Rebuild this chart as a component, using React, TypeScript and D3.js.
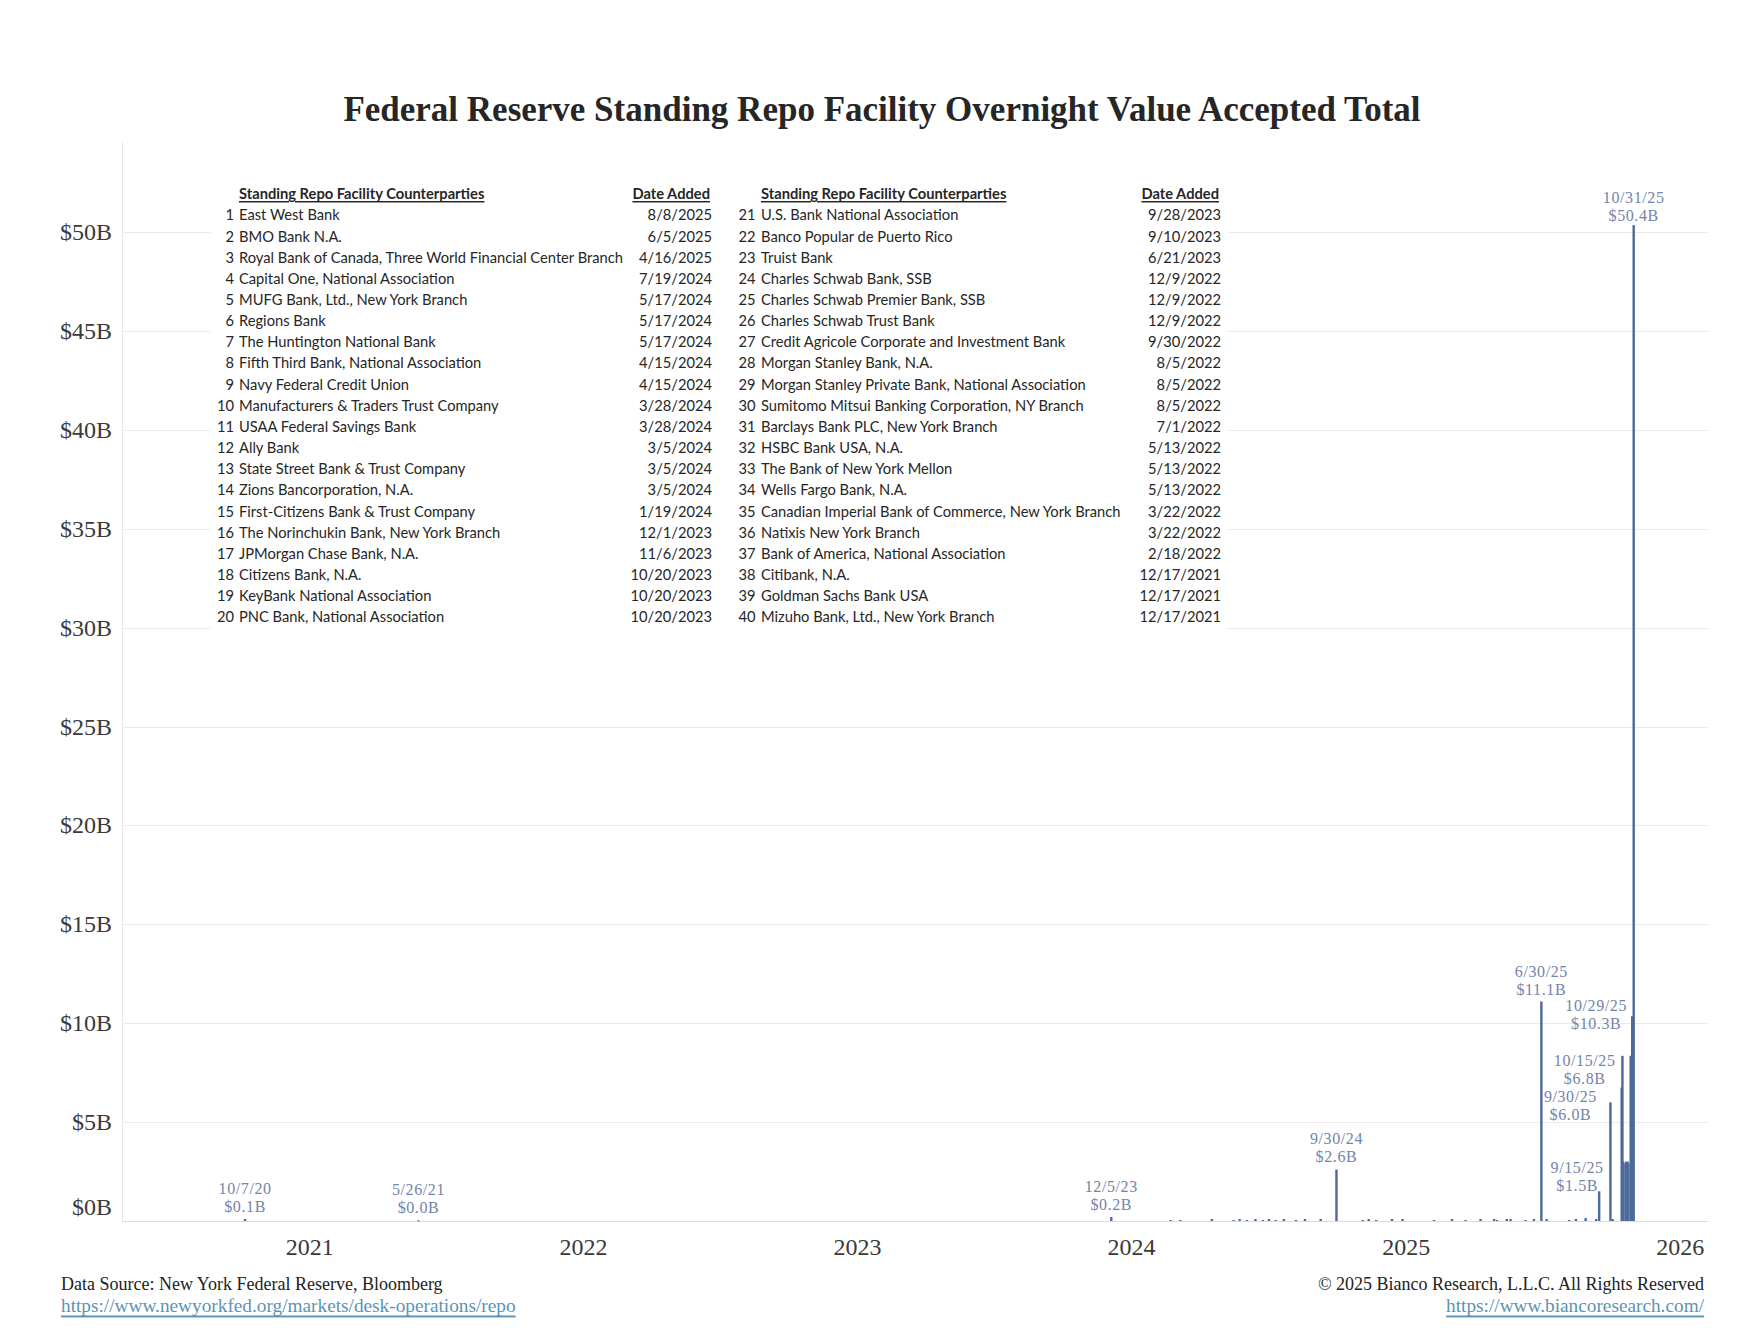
import React from "react";
import * as d3 from "d3";

const width = 1742;
const height = 1340;
const plot = { left: 122, right: 1708, top: 142, bottom: 1221 };
const serif = "'Liberation Serif', 'Times New Roman', serif";
const sans = "Lato, 'Open Sans', sans-serif";
const barColor = "#4d6a9a";
const labelColor = "#7384a8";
const linkColor = "#5b93b5";

const title =
  "Federal Reserve Standing Repo Facility Overnight Value Accepted Total";

// overnight SRF value accepted, $ billions (only days with usage)
const usageDates = [
  "2020-10-07", "2021-05-26", "2023-12-05",
  "2024-02-22", "2024-03-06", "2024-04-17", "2024-05-16", "2024-05-24",
  "2024-06-03", "2024-06-14", "2024-06-24", "2024-07-02", "2024-07-11",
  "2024-07-22", "2024-08-07", "2024-08-19", "2024-09-09", "2024-09-30",
  "2024-11-04", "2024-11-12", "2024-11-22", "2024-12-13", "2024-12-27",
  "2025-02-07", "2025-03-03", "2025-03-21", "2025-04-10", "2025-04-28",
  "2025-05-02", "2025-05-15", "2025-05-20", "2025-06-09", "2025-06-20",
  "2025-06-30", "2025-07-07", "2025-08-06", "2025-08-15", "2025-08-28",
  "2025-09-11", "2025-09-15", "2025-09-30", "2025-10-03",
  "2025-10-15", "2025-10-16", "2025-10-17", "2025-10-20", "2025-10-21",
  "2025-10-22", "2025-10-23", "2025-10-24", "2025-10-27", "2025-10-28",
  "2025-10-29", "2025-10-30", "2025-10-31",
];
const usageValues = [
  0.1, 0.03, 0.2,
  0.05, 0.05, 0.1, 0.05, 0.1,
  0.05, 0.1, 0.05, 0.1, 0.05,
  0.1, 0.05, 0.1, 0.1, 2.6,
  0.05, 0.1, 0.05, 0.1, 0.1,
  0.05, 0.1, 0.05, 0.1, 0.1,
  0.05, 0.1, 0.1, 0.05, 0.1,
  11.1, 0.1, 0.05, 0.1, 0.15,
  0.1, 1.5, 6.0, 0.1,
  6.75, 8.35, 3.0, 2.9, 3.0,
  2.9, 3.0, 2.9, 8.35, 8.35,
  10.35, 9.5, 50.35,
];

// annotated days
const labeledDates = [
  "2020-10-07", "2021-05-26", "2023-12-05", "2024-09-30", "2025-06-30",
  "2025-09-15", "2025-09-30", "2025-10-15", "2025-10-29", "2025-10-31",
];
// label nudges in px [dx, dy] so the late-2025 cluster stays readable
const labelNudges = [
  [0, 0], [0, 0], [0, 0], [0, 0], [0, 1],
  [-22, 7], [-40, 25], [-37, 4], [-36, 20], [0, 3],
];

const yTicks = [0, 5, 10, 15, 20, 25, 30, 35, 40, 45, 50];

const leftNames = [
  "East West Bank",
  "BMO Bank N.A.",
  "Royal Bank of Canada, Three World Financial Center Branch",
  "Capital One, National Association",
  "MUFG Bank, Ltd., New York Branch",
  "Regions Bank",
  "The Huntington National Bank",
  "Fifth Third Bank, National Association",
  "Navy Federal Credit Union",
  "Manufacturers & Traders Trust Company",
  "USAA Federal Savings Bank",
  "Ally Bank",
  "State Street Bank & Trust Company",
  "Zions Bancorporation, N.A.",
  "First-Citizens Bank & Trust Company",
  "The Norinchukin Bank, New York Branch",
  "JPMorgan Chase Bank, N.A.",
  "Citizens Bank, N.A.",
  "KeyBank National Association",
  "PNC Bank, National Association",
];
const leftAdded = [
  "8/8/2025", "6/5/2025", "4/16/2025", "7/19/2024", "5/17/2024",
  "5/17/2024", "5/17/2024", "4/15/2024", "4/15/2024", "3/28/2024",
  "3/28/2024", "3/5/2024", "3/5/2024", "3/5/2024", "1/19/2024",
  "12/1/2023", "11/6/2023", "10/20/2023", "10/20/2023", "10/20/2023",
];
const rightNames = [
  "U.S. Bank National Association",
  "Banco Popular de Puerto Rico",
  "Truist Bank",
  "Charles Schwab Bank, SSB",
  "Charles Schwab Premier Bank, SSB",
  "Charles Schwab Trust Bank",
  "Credit Agricole Corporate and Investment Bank",
  "Morgan Stanley Bank, N.A.",
  "Morgan Stanley Private Bank, National Association",
  "Sumitomo Mitsui Banking Corporation, NY Branch",
  "Barclays Bank PLC, New York Branch",
  "HSBC Bank USA, N.A.",
  "The Bank of New York Mellon",
  "Wells Fargo Bank, N.A.",
  "Canadian Imperial Bank of Commerce, New York Branch",
  "Natixis New York Branch",
  "Bank of America, National Association",
  "Citibank, N.A.",
  "Goldman Sachs Bank USA",
  "Mizuho Bank, Ltd., New York Branch",
];
const rightAdded = [
  "9/28/2023", "9/10/2023", "6/21/2023", "12/9/2022", "12/9/2022",
  "12/9/2022", "9/30/2022", "8/5/2022", "8/5/2022", "8/5/2022",
  "7/1/2022", "5/13/2022", "5/13/2022", "5/13/2022", "3/22/2022",
  "3/22/2022", "2/18/2022", "12/17/2021", "12/17/2021", "12/17/2021",
];

const parse = d3.timeParse("%Y-%m-%d");
const fmtDay = d3.timeFormat("%-m/%-d/%y");

const x = d3
  .scaleTime()
  .domain([parse("2020-04-26") as Date, parse("2026-02-07") as Date])
  .range([plot.left, plot.right]);
const y = d3.scaleLinear().domain([0, 50]).range([plot.bottom, 232]);
const barW = 2.4;

const table = {
  top: 214.4, // first row centre
  step: 21.15,
  headerY: 193,
  cols: [
    { num: 234, name: 239, date: 712, start: 1 },
    { num: 755.5, name: 761, date: 1221, start: 21 },
  ],
};

const CounterpartyTable = () => {
  const groups = [
    { names: leftNames, added: leftAdded, col: table.cols[0] },
    { names: rightNames, added: rightAdded, col: table.cols[1] },
  ];
  return (
    <g fontFamily={sans} fontSize={14.7} fill="#262626">
      <rect x={211} y={180} width={1017} height={452} fill="#fff" />
      {groups.map((g, gi) => (
        <g key={gi}>
          <text
            x={g.col.name}
            y={table.headerY}
            dominantBaseline="central"
            fontWeight="bold"
            textDecoration="underline"
          >
            Standing Repo Facility Counterparties
          </text>
          <text
            x={g.col.date - 2}
            y={table.headerY}
            dominantBaseline="central"
            textAnchor="end"
            fontWeight="bold"
            textDecoration="underline"
          >
            Date Added
          </text>
          {g.names.map((n, i) => {
            const cy = table.top + i * table.step;
            return (
              <g key={n}>
                <text x={g.col.num} y={cy} dominantBaseline="central" textAnchor="end">
                  {g.col.start + i}
                </text>
                <text x={g.col.name} y={cy} dominantBaseline="central">
                  {n}
                </text>
                <text x={g.col.date} y={cy} dominantBaseline="central" textAnchor="end">
                  {g.added[i]}
                </text>
              </g>
            );
          })}
        </g>
      ))}
    </g>
  );
};

export default function App() {
  const bars = usageDates.map((d, i) => ({
    date: parse(d) as Date,
    value: usageValues[i],
  }));
  const years = x.ticks(d3.timeYear.every(1) as d3.TimeInterval);
  const notes = labeledDates.map((d, i) => {
    const b = bars[usageDates.indexOf(d)];
    return { ...b, dx: labelNudges[i][0], dy: labelNudges[i][1] };
  });

  return (
    <svg
      width={width}
      height={height}
      style={{ position: "absolute", left: 0, top: 0, background: "#fff" }}
    >
      <text
        x={882}
        y={109}
        textAnchor="middle"
        dominantBaseline="central"
        fontFamily={serif}
        fontWeight="bold"
        fontSize={35}
        fill="#262626"
      >
        {title}
      </text>

      {/* grid */}
      <line
        x1={plot.left + 0.5}
        x2={plot.left + 0.5}
        y1={plot.top}
        y2={plot.bottom}
        stroke="#e6e6e6"
      />
      {yTicks.map((t) => (
        <g key={t}>
          <line
            x1={plot.left}
            x2={plot.right}
            y1={Math.round(y(t)) + 0.5}
            y2={Math.round(y(t)) + 0.5}
            stroke={t === 0 ? "#dcdcdc" : "#ebebeb"}
          />
          <text
            x={112}
            y={y(t) - (t === 0 ? 14 : 0)}
            textAnchor="end"
            dominantBaseline="central"
            fontFamily={serif}
            fontSize={24}
            fill="#3a3a3a"
          >
            {`$${t}B`}
          </text>
        </g>
      ))}
      {years.map((t) => (
        <text
          key={+t}
          x={x(t)}
          y={1247}
          textAnchor="middle"
          dominantBaseline="central"
          fontFamily={serif}
          fontSize={24}
          fill="#3a3a3a"
        >
          {d3.timeFormat("%Y")(t)}
        </text>
      ))}

      <CounterpartyTable />

      {/* annotations sit under the bars */}
      <g
        fontFamily={serif}
        fontSize={16}
        letterSpacing={0.6}
        fill={labelColor}
        textAnchor="middle"
      >
        {notes.map((n) => {
          const cx = x(n.date) + n.dx;
          const top = y(n.value) + n.dy;
          return (
            <g key={+n.date}>
              <text x={cx} y={top - 31} dominantBaseline="central">
                {fmtDay(n.date)}
              </text>
              <text x={cx} y={top - 13} dominantBaseline="central">
                {`$${n.value.toFixed(1)}B`}
              </text>
            </g>
          );
        })}
      </g>

      <g fill={barColor}>
        {bars.map((b) => (
          <rect
            key={+b.date}
            x={x(b.date) - barW / 2}
            y={y(b.value)}
            width={barW}
            height={Math.max(1, y(0) - y(b.value))}
          />
        ))}
      </g>

      {/* footer */}
      <g fontFamily={serif} fontSize={18}>
        <text x={61} y={1284} dominantBaseline="central" fill="#222">
          Data Source: New York Federal Reserve, Bloomberg
        </text>
        <text
          x={61}
          y={1305}
          dominantBaseline="central"
          fill={linkColor}
          fontSize={19.3}
          textDecoration="underline"
        >
          https://www.newyorkfed.org/markets/desk-operations/repo
        </text>
        <text x={1704} y={1284} dominantBaseline="central" textAnchor="end" fill="#222">
          © 2025 Bianco Research, L.L.C. All Rights Reserved
        </text>
        <text
          x={1704}
          y={1305}
          dominantBaseline="central"
          textAnchor="end"
          fill={linkColor}
          fontSize={19.3}
          textDecoration="underline"
        >
          https://www.biancoresearch.com/
        </text>
      </g>
    </svg>
  );
}
